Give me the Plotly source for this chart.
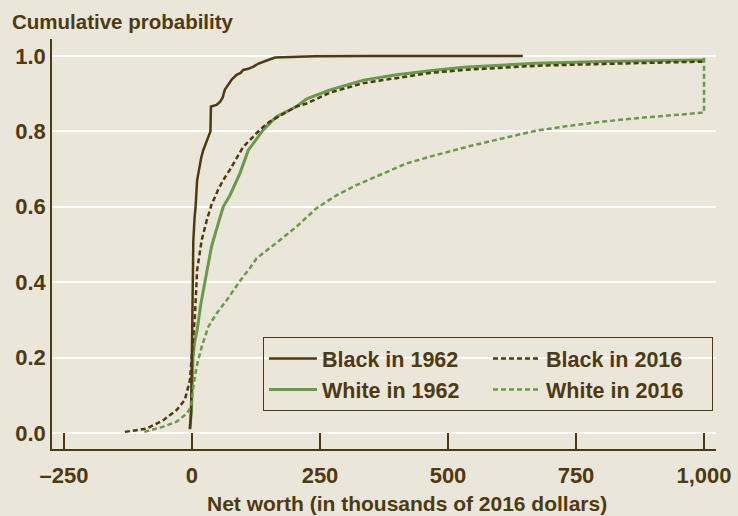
import plotly.graph_objects as go

# ---- data ----
black_1962_x = [-4, -2, -1, 0, 0.5, 1.3, 2.6, 5, 7, 10, 15, 18, 22, 28, 33, 36, 37, 48, 55, 60, 64, 72, 78, 87, 95, 100, 110, 120, 130, 146, 162, 240, 350, 646]
black_1962_y = [0.01, 0.05, 0.12, 0.2, 0.3, 0.4, 0.51, 0.57, 0.6, 0.67, 0.715, 0.73, 0.75, 0.77, 0.786, 0.8, 0.866, 0.87, 0.879, 0.89, 0.91, 0.925, 0.938, 0.95, 0.955, 0.963, 0.966, 0.972, 0.98, 0.988, 0.996, 0.999, 1.0, 1.0]

black_2016_x = [-131, -88, -56, -30, -14, -4, 1, 6, 10, 19, 29, 38, 51, 61, 74, 100, 126, 139, 152, 185, 204, 224, 270, 335, 400, 465, 530, 582, 673, 803, 1000]
black_2016_y = [0.003, 0.012, 0.034, 0.061, 0.088, 0.14, 0.23, 0.317, 0.432, 0.512, 0.565, 0.605, 0.645, 0.671, 0.698, 0.759, 0.795, 0.812, 0.826, 0.852, 0.866, 0.874, 0.903, 0.928, 0.941, 0.955, 0.963, 0.967, 0.974, 0.979, 0.985]

white_1962_x = [-4, -2, -1, 0, 1, 2, 5, 10, 17, 25, 38, 50, 61, 74, 87, 94, 110, 139, 152, 165, 204, 224, 270, 335, 400, 465, 530, 582, 673, 803, 1000]
white_1962_y = [0.012, 0.04, 0.061, 0.12, 0.17, 0.2, 0.24, 0.273, 0.34, 0.4, 0.494, 0.55, 0.6, 0.63, 0.67, 0.69, 0.75, 0.804, 0.822, 0.839, 0.866, 0.886, 0.91, 0.936, 0.95, 0.961, 0.97, 0.974, 0.981, 0.985, 0.989]

white_2016_x = [-93, -56, -30, -10, -2, 2.6, 9, 19, 32, 48, 68, 90, 100, 113, 126, 172, 204, 243, 283, 322, 367, 419, 465, 517, 543, 608, 673, 738, 803, 869, 934, 995, 1000, 1000]
white_2016_y = [0.003, 0.017, 0.03, 0.052, 0.07, 0.123, 0.176, 0.229, 0.282, 0.317, 0.353, 0.397, 0.415, 0.437, 0.463, 0.512, 0.547, 0.596, 0.631, 0.658, 0.684, 0.715, 0.733, 0.752, 0.761, 0.782, 0.802, 0.815, 0.826, 0.835, 0.843, 0.85, 0.85, 1.0]

x_tickvals = [-250, 0, 250, 500, 750, 1000]
x_ticktext = ["\u2013250", "0", "250", "500", "750", "1,000"]
y_tickvals = [0, 0.2, 0.4, 0.6, 0.8, 1.0]
y_ticktext = ["0.0", "0.2", "0.4", "0.6", "0.8", "1.0"]

BROWN = "#4d3a0f"
GREEN = "#689a4a"
BG = "#ebe6da"
FONT = "Liberation Sans, Arial, sans-serif"

fig = go.Figure()
fig.add_trace(go.Scatter(x=white_1962_x, y=white_1962_y, mode="lines", name="White in 1962",
                         line=dict(color=GREEN, width=3), legendrank=3))
fig.add_trace(go.Scatter(x=black_1962_x, y=black_1962_y, mode="lines", name="Black in 1962",
                         line=dict(color=BROWN, width=2.5), legendrank=1))
fig.add_trace(go.Scatter(x=black_2016_x, y=black_2016_y, mode="lines", name="Black in 2016",
                         line=dict(color=BROWN, width=2.5, dash="5px,3px"), legendrank=2))
fig.add_trace(go.Scatter(x=white_2016_x, y=white_2016_y, mode="lines", name="White in 2016",
                         line=dict(color=GREEN, width=2.5, dash="5px,3px"), legendrank=4))

fig.update_layout(
    width=738, height=516,
    margin=dict(l=52, r=22, t=39, b=67, autoexpand=False),
    paper_bgcolor=BG, plot_bgcolor=BG,
    font=dict(family=FONT, color=BROWN, size=20, weight="bold"),
    title=dict(text="Cumulative probability", x=12/738, xanchor="left", xref="container",
               y=1 - 22/516, yanchor="middle", yref="container",
               font=dict(family=FONT, size=20.5, color=BROWN, weight="bold")),
    showlegend=True,
    legend=dict(orientation="h", x=(263-52)/664, xanchor="left", y=(449-411)/410, yanchor="bottom",
                bgcolor="rgba(0,0,0,0)", bordercolor=BROWN, borderwidth=1,
                itemwidth=48, entrywidthmode="pixels", entrywidth=161,
                font=dict(family=FONT, size=21.5, color=BROWN, weight="bold"),
                traceorder="normal"),
    xaxis=dict(range=[-273.4, 1023.4], tickvals=x_tickvals, ticktext=x_ticktext, automargin=False,
               showgrid=False, zeroline=False, showline=True, linecolor=BROWN, linewidth=1.5,
               ticks="inside", ticklen=16, tickwidth=1.5, tickcolor=BROWN, ticklabelstandoff=6,
               tickfont=dict(family=FONT, size=22, color=BROWN, weight="bold")),
    yaxis=dict(range=[-0.0424, 1.045], tickvals=y_tickvals, ticktext=y_ticktext, automargin=False,
               showgrid=True, gridcolor="white", gridwidth=2, zeroline=False,
               showline=True, linecolor=BROWN, linewidth=1.5, ticks="",
               tickfont=dict(family=FONT, size=22, color=BROWN, weight="bold")),
    annotations=[dict(text="Net worth (in thousands of 2016 dollars)", xref="paper", yref="paper",
                      x=(407-52)/664, y=(449-503)/410, xanchor="center", yanchor="middle",
                      showarrow=False, font=dict(family=FONT, size=21, color=BROWN, weight="bold"))],
)

fig.write_html("out.html", config={"displayModeBar": False},
               post_script="document.body.style.margin='0';document.body.style.padding='0';"
                           "document.body.style.background='" + BG + "';")
